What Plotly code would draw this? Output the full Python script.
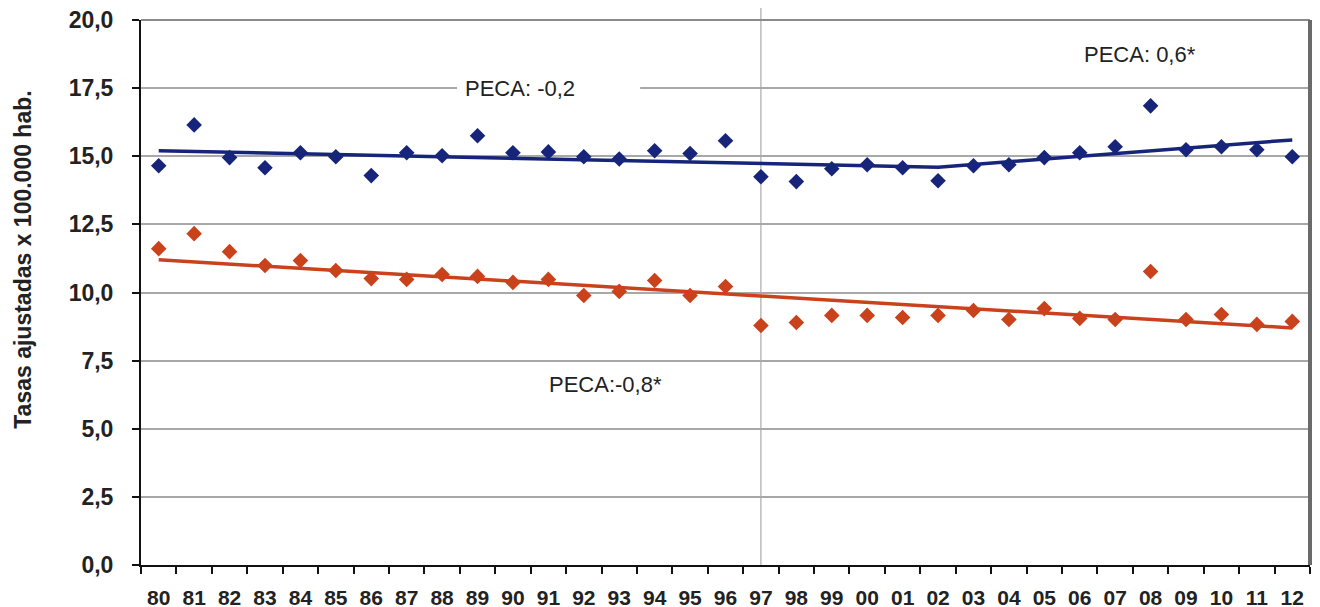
import plotly.graph_objects as go

years = ["80","81","82","83","84","85","86","87","88","89","90","91","92","93","94","95","96",
         "97","98","99","00","01","02","03","04","05","06","07","08","09","10","11","12"]
blue_vals = [14.65,16.15,14.95,14.58,15.13,14.98,14.29,15.13,15.02,15.75,15.13,15.16,14.98,14.9,15.2,15.1,15.57,
             14.25,14.07,14.54,14.69,14.58,14.1,14.65,14.69,14.95,15.13,15.35,16.85,15.24,15.35,15.24,14.98]
red_vals = [11.61,12.16,11.5,10.99,11.17,10.81,10.51,10.48,10.66,10.59,10.37,10.48,9.89,10.04,10.44,9.89,10.22,
            8.79,8.9,9.16,9.16,9.08,9.16,9.34,9.01,9.41,9.05,9.01,10.77,9.01,9.19,8.83,8.94]
blue_trend_years = ["80","02","12"]
blue_trend_vals = [15.2,14.6,15.6]
red_trend_years = ["80","12"]
red_trend_vals = [11.2,8.7]
ytick_vals = [0,2.5,5,7.5,10,12.5,15,17.5,20]
ytick_text = ["0,0","2,5","5,0","7,5","10,0","12,5","15,0","17,5","20,0"]

BLUE = "#16257a"
RED = "#c9421c"
FONT = "Liberation Sans, Arial"
idx = {y: i for i, y in enumerate(years)}

fig = go.Figure()
fig.add_trace(go.Scatter(x=blue_trend_years, y=blue_trend_vals, mode="lines",
                         line=dict(color=BLUE, width=3.5), showlegend=False))
fig.add_trace(go.Scatter(x=red_trend_years, y=red_trend_vals, mode="lines",
                         line=dict(color=RED, width=3.5), showlegend=False))
fig.add_trace(go.Scatter(x=years, y=blue_vals, mode="markers",
                         marker=dict(symbol="diamond", size=12, color=BLUE), showlegend=False))
fig.add_trace(go.Scatter(x=years, y=red_vals, mode="markers",
                         marker=dict(symbol="diamond", size=12, color=RED), showlegend=False))

# vertical reference line at 97
fig.add_shape(type="line", xref="x", yref="paper", x0=idx["97"], x1=idx["97"], y0=0, y1=1.04,
              line=dict(color="#9a9a9a", width=1), layer="below")
# white gap in the 17,5 gridline behind the label
fig.add_shape(type="rect", xref="x", yref="y", x0=8.42, x1=13.59, y0=17.2, y1=17.8,
              fillcolor="white", line=dict(width=0), layer="between")
# top/right border
fig.add_shape(type="line", xref="paper", yref="paper", x0=0, x1=1, y0=1, y1=1,
              line=dict(color="#8a8a8a", width=2))
fig.add_shape(type="line", xref="paper", yref="paper", x0=1, x1=1, y0=0, y1=1,
              line=dict(color="#6a6a6a", width=4))

ann_font = dict(family=FONT, size=22, color="#222222")
fig.add_annotation(x=10.2, y=17.5, text="PECA: -0,2", showarrow=False, font=ann_font)
fig.add_annotation(x=27.7, y=18.72, text="PECA: 0,6*", showarrow=False, font=ann_font)
fig.add_annotation(x=12.6, y=6.64, text="PECA:-0,8*", showarrow=False, font=ann_font)
# y-axis title
fig.add_annotation(xref="paper", yref="paper", x=-0.101, y=0.56, text="<b>Tasas ajustadas x 100.000 hab.</b>",
                   textangle=-90, showarrow=False, xanchor="center", yanchor="middle",
                   font=dict(family=FONT, size=23, color="#222222"))

fig.update_layout(
    width=1320, height=607,
    margin=dict(l=133, r=18, t=12, b=50),
    plot_bgcolor="white", paper_bgcolor="white",
    font=dict(family=FONT, color="#222222"),
)
fig.update_xaxes(type="category", categoryorder="array", categoryarray=years,
                 range=[-0.5, len(years) - 0.5], tickson="boundaries",
                 automargin=False, ticklabeloverflow="allow",
                 showgrid=False, zeroline=False, showline=True, linecolor="#111111", linewidth=2,
                 ticks="outside", ticklen=7, tickwidth=2, tickcolor="#111111",
                 ticklabelstandoff=13,
                 tickfont=dict(size=21, family=FONT, color="#222222", weight="bold"))
fig.update_yaxes(range=[0, 20], tickmode="array", tickvals=ytick_vals, ticktext=ytick_text,
                 automargin=False, ticklabeloverflow="allow",
                 showgrid=True, gridcolor="#a8a8a8", gridwidth=1.5, zeroline=False,
                 showline=True, linecolor="#111111", linewidth=2,
                 ticks="outside", ticklen=7, tickwidth=2, tickcolor="#111111",
                 ticklabelstandoff=14,
                 tickfont=dict(size=23, family=FONT, color="#222222", weight="bold"))

fig.write_html("out.html")
